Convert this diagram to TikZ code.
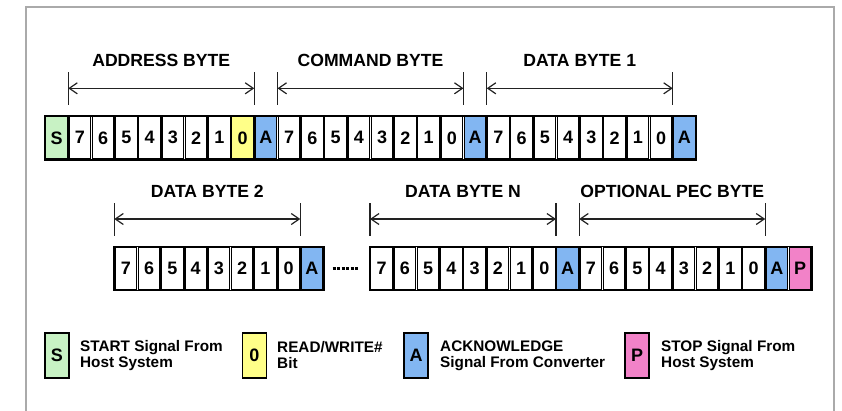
\documentclass[tikz,border=0pt]{standalone}
\usepackage{fontspec}
\setmainfont{Liberation Sans}
\usetikzlibrary{arrows.meta,calc,fit}
\definecolor{cg}{HTML}{C8F2C4}
\definecolor{cy}{HTML}{FFFF88}
\definecolor{cb}{HTML}{82B6F2}
\definecolor{cp}{HTML}{F282C8}
\definecolor{framegray}{HTML}{AAAAAA}
\definecolor{linegray}{HTML}{222222}
\newcommand\cellfont{\fontsize{18bp}{20bp}\selectfont\bfseries}
\newcommand\headfont{\fontsize{17.6bp}{20bp}\selectfont\bfseries}
\newcommand\legfont{\fontsize{15.3bp}{16bp}\selectfont\bfseries}
\tikzset{
  cell/.style={draw, line width=1.3bp, minimum width=21.65bp, minimum height=42.4bp,
    inner sep=0, outer sep=0, font=\cellfont},
  rowframe/.style={draw, line width=1.9bp, inner sep=0.8bp, outer sep=0},
  tickline/.style={draw=linegray, line width=1.3bp},
  spanarrow/.style={draw=linegray, line width=1.2bp,
    {Straight Barb[length=8bp,width=11bp]}-{Straight Barb[length=8bp,width=11bp]}},
  headlabel/.style={font=\headfont, inner sep=0},
  legbox/.style={draw, line width=1.9bp, minimum width=24bp, minimum height=45bp,
    inner sep=0, font=\cellfont},
  legtext/.style={anchor=west, align=left, font=\legfont, inner sep=0},
  frameline/.style={draw=framegray, line width=1.5bp},
  dotline/.style={draw=black, line width=2.2bp, dash pattern=on 3bp off 1.5bp}
}
\newcommand\bytespan[4]{%
  \coordinate (#3L) at (#1);
  \coordinate (#3R) at (#2);
  \coordinate (#3Lb) at ($(#3L)+(0,-33)$);
  \coordinate (#3Lt) at ($(#3L)+(0,-66)$);
  \coordinate (#3La) at ($(#3L)+(0,-49.5)$);
  \coordinate (#3Rb) at ($(#3R)+(0,-33)$);
  \coordinate (#3Rt) at ($(#3R)+(0,-66)$);
  \coordinate (#3Ra) at ($(#3R)+(0,-49.5)$);
  \draw[tickline] (#3Lb) -- (#3Lt);
  \draw[tickline] (#3Rb) -- (#3Rt);
  \draw[spanarrow] (#3La) -- (#3Ra);
  \node[headlabel] (#3T) at ($(#3L)!0.5!(#3R)+(0,-77)$) {#4};
}
\begin{document}
\begin{tikzpicture}[x=1bp,y=-1bp]
\useasboundingbox (0,0) rectangle (842,410);
% outer frame
\draw[frameline] (26,415) -- (26,7) -- (834,7) -- (834,415);

% row 1
\foreach \t/\c [count=\i from 0] in {S/cg,7/white,6/white,5/white,4/white,3/white,2/white,1/white,0/cy,A/cb,
  7/white,6/white,5/white,4/white,3/white,2/white,1/white,0/white,A/cb,
  7/white,6/white,5/white,4/white,3/white,2/white,1/white,0/white,A/cb}
  \node[cell, fill=\c] (r1c\i) at ({45+11.625+\i*23.25}, 137.8) {\t};
\node[rowframe, fit=(r1c0)(r1c27)] (row1) {};

% row 2, first group
\foreach \t/\c [count=\i from 0] in {7/white,6/white,5/white,4/white,3/white,2/white,1/white,0/white,A/cb}
  \node[cell, fill=\c] (r2a\i) at ({114.3+11.625+\i*23.25}, 268.5) {\t};
\node[rowframe, fit=(r2a0)(r2a8)] (row2a) {};

% row 2, second group
\foreach \t/\c [count=\i from 0] in {7/white,6/white,5/white,4/white,3/white,2/white,1/white,0/white,A/cb,
  7/white,6/white,5/white,4/white,3/white,2/white,1/white,0/white,A/cb,P/cp}
  \node[cell, fill=\c] (r2b\i) at ({370+11.625+\i*23.25}, 268.5) {\t};
\node[rowframe, fit=(r2b0)(r2b18)] (row2b) {};

% dotted gap
\coordinate (dotA) at ($(row2a.east)+(9,0)$);
\coordinate (dotB) at ($(row2b.west)+(-12,0)$);
\draw[dotline] (dotA) -- (dotB);

% byte spans
\bytespan{$(r1c0.east)!0.5!(r1c1.west)$}{$(r1c8.east)!0.5!(r1c9.west)$}{addr}{ADDRESS BYTE}
\bytespan{$(r1c9.east)!0.5!(r1c10.west)$}{$(r1c17.east)!0.5!(r1c18.west)$}{cmd}{COMMAND BYTE}
\bytespan{$(r1c18.east)!0.5!(r1c19.west)$}{$(r1c26.east)!0.5!(r1c27.west)$}{dbone}{DATA BYTE 1}
\bytespan{$(r2a0.west)+(-0.8,0)$}{$(r2a7.east)!0.5!(r2a8.west)$}{dbtwo}{DATA BYTE 2}
\bytespan{$(r2b0.west)+(-0.8,0)$}{$(r2b7.east)!0.5!(r2b8.west)$}{dbn}{DATA BYTE N}
\bytespan{$(r2b8.east)!0.5!(r2b9.west)$}{$(r2b16.east)!0.5!(r2b17.west)$}{pec}{OPTIONAL PEC BYTE}

% legend
\node[legbox, fill=cg] (legS) at (57,355.5) {S};
\node[legtext] (legSt) at (80,355.5) {START Signal From\\Host System};
\node[legbox, fill=cy] (legR) at (254.5,355.5) {0};
\node[legtext] (legRt) at (277,355.5) {READ/WRITE\#\\Bit};
\node[legbox, fill=cb] (legA) at (416,355.5) {A};
\node[legtext] (legAt) at (440,355.5) {ACKNOWLEDGE\\Signal From Converter};
\node[legbox, fill=cp] (legP) at (637,355.5) {P};
\node[legtext] (legPt) at (661,355.5) {STOP Signal From\\Host System};
\end{tikzpicture}
\end{document}
